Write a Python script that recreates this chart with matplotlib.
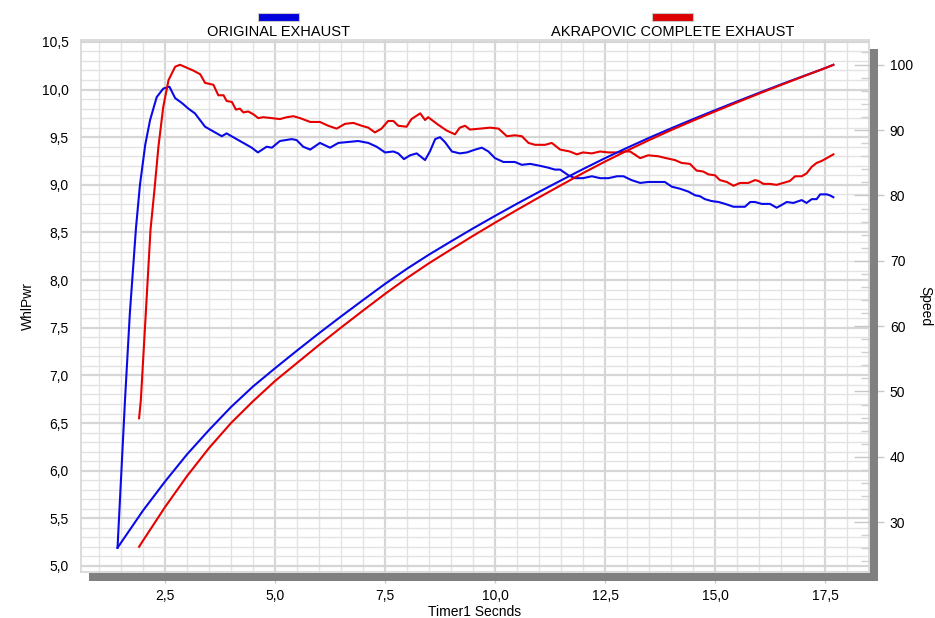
import matplotlib
matplotlib.use("Agg")
import matplotlib.pyplot as plt
from matplotlib.patches import Rectangle
from matplotlib.ticker import MultipleLocator, FuncFormatter

plt.rcParams['font.family'] = ['Liberation Sans', 'DejaVu Sans']

# ---------------- data ----------------
blue_pwr_t = [1.42, 1.59, 1.70, 1.84, 1.93, 2.05, 2.16, 2.31, 2.46, 2.60, 2.73, 2.88, 3.03, 3.18,
              3.41, 3.60, 3.79, 3.90, 4.05, 4.28, 4.47, 4.61, 4.81, 4.93, 5.11, 5.38, 5.49, 5.64,
              5.80, 6.02, 6.25, 6.44, 6.67, 6.89, 7.12, 7.31, 7.50, 7.69, 7.80, 7.93, 8.07, 8.22,
              8.41, 8.52, 8.64, 8.75, 8.86, 9.02, 9.20, 9.36, 9.55, 9.70, 9.85, 10.00, 10.19,
              10.45, 10.61, 10.80, 11.02, 11.21, 11.36, 11.48, 11.67, 11.82, 12.00, 12.20, 12.39,
              12.58, 12.77, 12.92, 13.10, 13.30, 13.48, 13.67, 13.86, 14.02, 14.20, 14.39, 14.55,
              14.66, 14.77, 14.92, 15.08, 15.23, 15.42, 15.68, 15.80, 15.91, 16.06, 16.25, 16.40,
              16.52, 16.63, 16.78, 16.97, 17.08, 17.20, 17.31, 17.39, 17.54, 17.61, 17.69]
blue_pwr = [5.19, 6.74, 7.65, 8.55, 9.00, 9.42, 9.68, 9.92, 10.01, 10.03, 9.91, 9.86, 9.80, 9.75,
            9.61, 9.56, 9.51, 9.54, 9.50, 9.44, 9.39, 9.34, 9.40, 9.39, 9.46, 9.48, 9.47, 9.40,
            9.37, 9.44, 9.39, 9.44, 9.45, 9.46, 9.44, 9.40, 9.34, 9.35, 9.33, 9.27, 9.31, 9.33,
            9.26, 9.35, 9.48, 9.50, 9.45, 9.35, 9.33, 9.34, 9.37, 9.39, 9.35, 9.28, 9.24,
            9.24, 9.21, 9.22, 9.20, 9.18, 9.16, 9.16, 9.10, 9.07, 9.07, 9.09, 9.07,
            9.07, 9.09, 9.09, 9.05, 9.02, 9.03, 9.03, 9.03, 8.98, 8.96, 8.93, 8.89,
            8.88, 8.85, 8.83, 8.82, 8.80, 8.77, 8.77, 8.82, 8.82, 8.80, 8.80, 8.76,
            8.79, 8.82, 8.81, 8.84, 8.81, 8.85, 8.85, 8.90, 8.90, 8.89, 8.87]

red_pwr_t = [1.91, 1.95, 2.05, 2.17, 2.26, 2.35, 2.46, 2.58, 2.73, 2.84, 2.99, 3.14, 3.30, 3.41,
             3.60, 3.71, 3.83, 3.90, 4.02, 4.11, 4.20, 4.28, 4.39, 4.51, 4.62, 4.73, 4.93, 5.11,
             5.27, 5.42, 5.57, 5.80, 6.02, 6.21, 6.40, 6.59, 6.78, 6.97, 7.12, 7.27, 7.42, 7.57,
             7.69, 7.80, 7.99, 8.10, 8.30, 8.41, 8.48, 8.71, 8.90, 9.09, 9.20, 9.32, 9.43, 9.66,
             9.89, 10.08, 10.27, 10.45, 10.61, 10.76, 10.91, 11.14, 11.29, 11.48, 11.70, 11.86,
             12.00, 12.20, 12.39, 12.58, 12.77, 12.95, 13.07, 13.30, 13.48, 13.71, 13.89, 14.09,
             14.24, 14.43, 14.58, 14.73, 14.85, 15.00, 15.11, 15.27, 15.42, 15.57, 15.76, 15.91,
             15.99, 16.10, 16.25, 16.40, 16.55, 16.70, 16.82, 16.97, 17.08, 17.20, 17.31, 17.42,
             17.54, 17.69]
red_pwr = [6.55, 6.74, 7.55, 8.53, 8.95, 9.40, 9.82, 10.10, 10.24, 10.26, 10.23, 10.20, 10.16, 10.07,
           10.05, 9.94, 9.94, 9.88, 9.87, 9.79, 9.80, 9.76, 9.77, 9.74, 9.70, 9.71, 9.70, 9.69,
           9.71, 9.72, 9.70, 9.66, 9.66, 9.62, 9.59, 9.64, 9.65, 9.62, 9.60, 9.55, 9.59, 9.67,
           9.67, 9.62, 9.61, 9.69, 9.75, 9.68, 9.71, 9.63, 9.57, 9.53, 9.60, 9.62, 9.58, 9.59,
           9.60, 9.59, 9.51, 9.52, 9.51, 9.44, 9.42, 9.42, 9.44, 9.37, 9.35, 9.32,
           9.34, 9.33, 9.35, 9.34, 9.34, 9.35, 9.35, 9.28, 9.31, 9.30, 9.28, 9.26,
           9.23, 9.22, 9.15, 9.14, 9.11, 9.10, 9.05, 9.03, 8.99, 9.02, 9.02, 9.05,
           9.04, 9.01, 9.01, 9.00, 9.02, 9.04, 9.09, 9.09, 9.12, 9.19, 9.23, 9.25,
           9.28, 9.32]

blue_spd_t = [1.42, 2.0, 2.5, 3.0, 3.5, 4.0, 4.5, 5.0, 5.5, 6.0, 6.5, 7.0, 7.5, 8.0, 8.5, 9.0,
              9.5, 10.0, 10.5, 11.0, 11.5, 12.0, 12.5, 13.0, 13.5, 14.0, 14.5, 15.0, 15.5, 16.0,
              16.5, 17.0, 17.5, 17.69]
blue_spd = [26.07, 31.77, 36.21, 40.37, 44.10, 47.62, 50.76, 53.55, 56.26, 58.91, 61.48, 63.99,
            66.46, 68.79, 70.95, 72.97, 74.96, 76.87, 78.74, 80.55, 82.31, 84.04, 85.71, 87.29,
            88.82, 90.27, 91.68, 93.05, 94.39, 95.71, 97.00, 98.25, 99.49, 100.0]

red_spd_t = [1.91, 2.0, 2.5, 3.0, 3.5, 4.0, 4.5, 5.0, 5.5, 6.0, 6.5, 7.0, 7.5, 8.0, 8.5, 9.0,
             9.5, 10.0, 10.5, 11.0, 11.5, 12.0, 12.5, 13.0, 13.5, 14.0, 14.5, 15.0, 15.5, 16.0,
             16.5, 17.0, 17.5, 17.69]
red_spd = [26.22, 27.17, 32.30, 37.05, 41.34, 45.17, 48.50, 51.60, 54.36, 57.11, 59.78, 62.38,
           64.93, 67.36, 69.63, 71.74, 73.82, 75.83, 77.79, 79.71, 81.57, 83.43, 85.19, 86.86,
           88.47, 90.00, 91.45, 92.86, 94.24, 95.59, 96.91, 98.21, 99.48, 100.0]

series_names = ["ORIGINAL EXHAUST", "AKRAPOVIC COMPLETE EXHAUST"]
x_label = "Timer1 Secnds"
y_label = "WhlPwr"
y2_label = "Speed"

BLUE = "#0a0ae8"
RED = "#e60000"

# ---------------- figure ----------------
W, H = 935, 618
fig = plt.figure(figsize=(W / 100, H / 100), dpi=100)
fig.patch.set_facecolor("white")

L, R, T, B = 81, 869, 40, 572
ax = fig.add_axes([L / W, 1 - B / H, (R - L) / W, (B - T) / H])
ax.set_xlim(0.59, 18.5)
ax.set_ylim(4.937, 10.52)

ax.xaxis.set_major_locator(MultipleLocator(2.5))
ax.xaxis.set_minor_locator(MultipleLocator(0.5))
ax.yaxis.set_major_locator(MultipleLocator(0.5))
ax.yaxis.set_minor_locator(MultipleLocator(0.1))

comma = FuncFormatter(lambda v, p: f"{v:.1f}".replace(".", ","))
ax.xaxis.set_major_formatter(comma)
ax.yaxis.set_major_formatter(comma)

ax.grid(which="minor", color="#e3e3e3", linewidth=1.0)
ax.grid(which="major", color="#d6d6d6", linewidth=1.6)
ax.set_axisbelow(True)

for s in ax.spines.values():
    s.set_color("#d6d6d6")
    s.set_linewidth(1.2)

ax.tick_params(axis="x", which="major", direction="out", length=8, width=1, color="#c8c8c8",
               labelsize=10, pad=4)
ax.tick_params(axis="x", which="minor", length=0)
ax.tick_params(axis="y", which="both", length=0, labelsize=10, pad=9)

ax.plot(blue_pwr_t, blue_pwr, color=BLUE, lw=1.5, zorder=3)
ax.plot(red_pwr_t, red_pwr, color=RED, lw=1.5, zorder=3)

ax.set_xlabel(x_label, fontsize=10, labelpad=2)
ax.set_ylabel(y_label, fontsize=10, labelpad=5)

ax2 = ax.twinx()
ax2.set_ylim(22.36, 103.8)
ax2.yaxis.set_major_locator(MultipleLocator(10))
ax2.yaxis.set_minor_locator(MultipleLocator(2))
for s in ax2.spines.values():
    s.set_visible(False)
ax2.tick_params(axis="y", which="major", direction="inout", length=22, width=1, color="#c8c8c8",
                labelsize=10, pad=4)
ax2.tick_params(axis="y", which="minor", direction="in", length=6, width=1, color="#d0d0d0")
ax2.plot(blue_spd_t, blue_spd, color=BLUE, lw=1.5, zorder=3)
ax2.plot(red_spd_t, red_spd, color=RED, lw=1.5, zorder=3)
ax2.set_ylabel(y2_label, fontsize=10, rotation=270, labelpad=14)

# 3D-ish gray frame bars
gray = "#808080"
fig.patches.append(Rectangle((89 / W, 1 - 581 / H), (878 - 89) / W, 8.5 / H,
                             transform=fig.transFigure, facecolor=gray, edgecolor="none", zorder=5))
fig.patches.append(Rectangle((870 / W, 1 - 581 / H), 8 / W, (581 - 49) / H,
                             transform=fig.transFigure, facecolor=gray, edgecolor="none", zorder=5))

# legend
for name, col, cx in [(series_names[0], "#0000dd", 278.5), (series_names[1], "#dd0000", 672.5)]:
    fig.patches.append(Rectangle(((cx - 20.5) / W, 1 - 21 / H), 41 / W, 8 / H,
                                 transform=fig.transFigure, facecolor=col,
                                 edgecolor="#c8c8c8", linewidth=0.8, zorder=5))
    fig.text(cx / W, 1 - 32.5 / H, name, ha="center", va="center", fontsize=10.5)

fig.savefig("out.png", dpi=100)
